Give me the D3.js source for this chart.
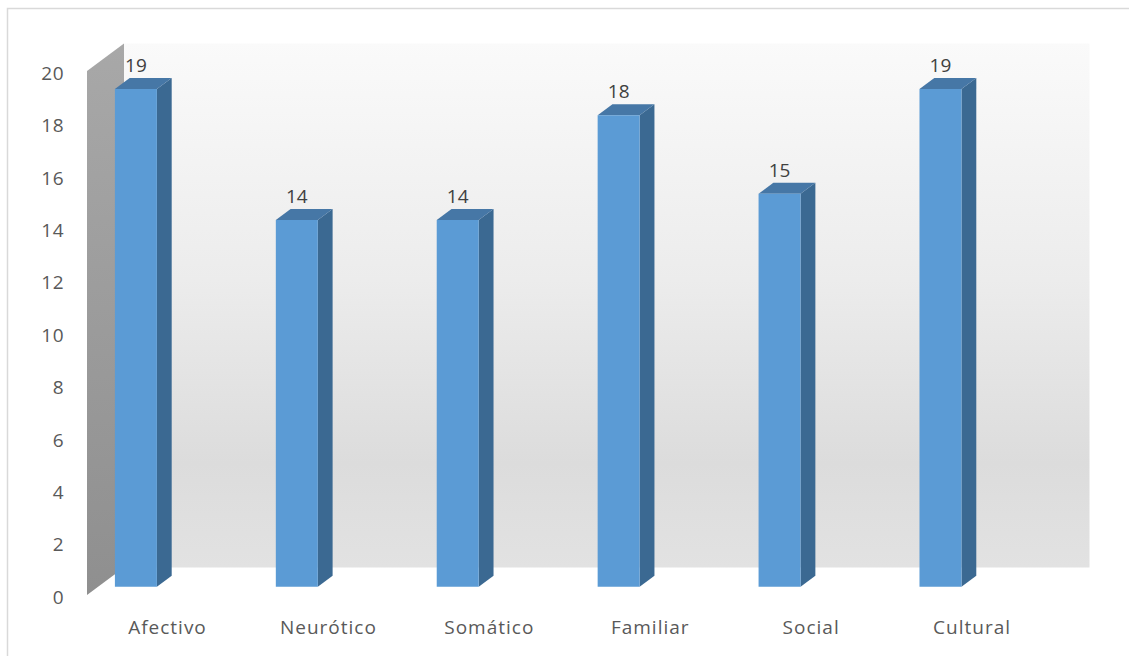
<!DOCTYPE html>
<html>
<head>
<meta charset="utf-8">
<script src="https://cdn.jsdelivr.net/npm/d3@7"></script>
<style>
  html, body { margin: 0; padding: 0; background: #ffffff; }
  svg { display: block; }
  text { font-family: "Open Sans", "Noto Sans", sans-serif; }
</style>
</head>
<body>
<svg id="chart" width="1129" height="656"></svg>
<script>
// Data
const categories = ["Afectivo", "Neurótico", "Somático", "Familiar", "Social", "Cultural"];
const values = [19, 14, 14, 18, 15, 19];
const yTicks = [0, 2, 4, 6, 8, 10, 12, 14, 16, 18, 20];

const svg = d3.select("#chart");
const W = 1129, H = 656;

// Oblique projection of the 3D plot box: depth 0 = front plane, depth 1 = back wall
const DEPTH_DX = 37, DEPTH_DY = -27.5;
const x = d3.scaleBand().domain(categories).range([87, 1052.5]);
const y = d3.scaleLinear().domain([0, 20]).range([595, 595 - 524]);
const proj = (px, v, depth) => [px + depth * DEPTH_DX, y(v) + depth * DEPTH_DY];

// Column geometry inside each band
const BAR_OFFSET = 16.8, BAR_W = 42, D0 = 0.3, D1 = 0.7;

const defs = svg.append("defs");
const wallGrad = defs.append("linearGradient").attr("id", "backWall")
  .attr("x1", 0).attr("y1", 0).attr("x2", 0).attr("y2", 1);
[[0, "#fafafa"], [0.45, "#ececec"], [0.8, "#dcdcdc"], [1, "#e2e2e2"]]
  .forEach(([o, c]) => wallGrad.append("stop").attr("offset", o).attr("stop-color", c));
const sideGrad = defs.append("linearGradient").attr("id", "sideWall")
  .attr("x1", 0).attr("y1", 0).attr("x2", 0).attr("y2", 1);
[[0, "#a8a8a8"], [1, "#8f8f8f"]]
  .forEach(([o, c]) => sideGrad.append("stop").attr("offset", o).attr("stop-color", c));

// Chart area border
svg.append("rect")
  .attr("x", 7.5).attr("y", 8.5)
  .attr("width", W + 20).attr("height", H + 20)
  .attr("fill", "none").attr("stroke", "#d9d9d9").attr("stroke-width", 1.5);

const poly = pts => pts.map(p => p.join(",")).join(" ");
const [x0, x1] = x.range();

// Back wall
svg.append("polygon")
  .attr("points", poly([proj(x0, 20, 1), proj(x1, 20, 1), proj(x1, 0, 1), proj(x0, 0, 1)]))
  .attr("fill", "url(#backWall)");

// Left side wall
svg.append("polygon")
  .attr("points", poly([proj(x0, 20, 0), proj(x0, 20, 1), proj(x0, 0, 1), proj(x0, 0, 0)]))
  .attr("fill", "url(#sideWall)");

// Columns
const bars = svg.append("g").selectAll("g.bar")
  .data(categories.map((c, i) => ({ c, v: values[i] })))
  .join("g").attr("class", "bar");

bars.append("polygon") // right side face
  .attr("points", d => {
    const xr = x(d.c) + BAR_OFFSET + BAR_W;
    return poly([proj(xr, d.v, D0), proj(xr, d.v, D1), proj(xr, 0, D1), proj(xr, 0, D0)]);
  })
  .attr("fill", "#3b6992");

bars.append("polygon") // top face
  .attr("points", d => {
    const xl = x(d.c) + BAR_OFFSET, xr = xl + BAR_W;
    return poly([proj(xl, d.v, D0), proj(xl, d.v, D1), proj(xr, d.v, D1), proj(xr, d.v, D0)]);
  })
  .attr("fill", "#4677a6");

bars.append("polygon") // front face
  .attr("points", d => {
    const xl = x(d.c) + BAR_OFFSET, xr = xl + BAR_W;
    return poly([proj(xl, d.v, D0), proj(xr, d.v, D0), proj(xr, 0, D0), proj(xl, 0, D0)]);
  })
  .attr("fill", "#5b9bd5");

// Value labels
bars.append("text")
  .attr("x", d => proj(x(d.c) + BAR_OFFSET + BAR_W / 2, d.v, D0)[0])
  .attr("y", d => proj(0, d.v, D0)[1] - 17)
  .attr("text-anchor", "middle")
  .attr("font-size", 19)
  .attr("fill", "#404040")
  .text(d => d.v);

// Value axis
const yAxis = svg.append("g")
  .attr("transform", "translate(64,2.3)")
  .call(d3.axisLeft(y).tickValues(yTicks).tickSize(0).tickPadding(0));
yAxis.select(".domain").remove();
yAxis.selectAll("text")
  .attr("font-size", 19).attr("fill", "#595959")
  .attr("font-family", "Open Sans, Noto Sans, sans-serif")
  .attr("letter-spacing", 0.5);

// Category axis
const xAxis = svg.append("g")
  .attr("transform", "translate(0,620)")
  .call(d3.axisBottom(x).tickSize(0).tickPadding(0));
xAxis.select(".domain").remove();
xAxis.selectAll("text")
  .attr("dy", "0.71em")
  .attr("font-size", 19).attr("fill", "#595959")
  .attr("font-family", "Open Sans, Noto Sans, sans-serif")
  .attr("letter-spacing", 1);
</script>
</body>
</html>
